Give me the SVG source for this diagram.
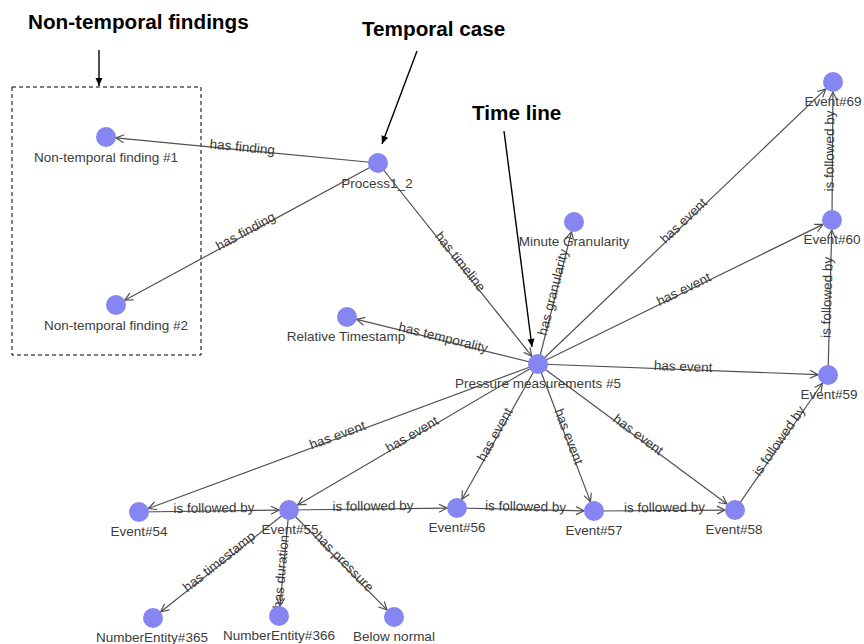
<svg xmlns="http://www.w3.org/2000/svg" width="864" height="644" viewBox="0 0 864 644">
  <style>
    .edge { stroke: #505050; stroke-width: 1.2; fill: none; marker-end: url(#open); }
    .note { stroke: #000; stroke-width: 1.4; fill: none; marker-end: url(#solid); }
    .node circle { fill: #8686f3; }
    .nlabel { font-family: "Liberation Sans", Arial, sans-serif; font-size: 13.5px; fill: #3c3c3c; text-anchor: middle; }
    .elabel { font-family: "Liberation Sans", Arial, sans-serif; font-size: 13.5px; fill: #3a3a3a; text-anchor: middle; }
    .title { font-family: "Liberation Sans", Arial, sans-serif; font-size: 20.7px; font-weight: bold; fill: #000; }
  </style>
  <defs>
    <marker id="open" markerUnits="userSpaceOnUse" orient="auto" overflow="visible" markerWidth="10" markerHeight="10">
      <path d="M-8,-4 L0,0 L-8,4" fill="none" stroke="#505050" stroke-width="1.2"/>
    </marker>
    <marker id="solid" markerUnits="userSpaceOnUse" orient="auto" overflow="visible" markerWidth="10" markerHeight="10">
      <path d="M-8,-3.5 L0,0 L-8,3.5 Z" fill="#000"/>
    </marker>
  </defs>
  <rect width="864" height="644" fill="#fff"/>

  <!-- callouts -->
  <g id="callouts">
    <text class="title" x="28" y="29">Non-temporal findings</text>
    <text class="title" x="362" y="36">Temporal case</text>
    <text class="title" x="472" y="120">Time line</text>
    <line class="note" x1="99" y1="50" x2="99" y2="86"/>
    <line class="note" x1="417" y1="51" x2="382" y2="144"/>
    <line class="note" x1="504" y1="131" x2="532" y2="347"/>
    <rect x="12" y="87" width="189" height="268" fill="none" stroke="#000" stroke-width="1" stroke-dasharray="4,3"/>
  </g>

  <!-- connectors -->
  <g id="connectors">
    <line class="edge" x1="378" y1="163" x2="115.96" y2="137.95"/>
    <line class="edge" x1="378" y1="163" x2="124.79" y2="300.23"/>
    <line class="edge" x1="378" y1="163" x2="531.77" y2="356.18"/>
    <line class="edge" x1="538" y1="364" x2="356.71" y2="319.39"/>
    <line class="edge" x1="538" y1="364" x2="571.54" y2="231.69"/>
    <line class="edge" x1="538" y1="364" x2="825.77" y2="88.91"/>
    <line class="edge" x1="538" y1="364" x2="823.02" y2="224.40"/>
    <line class="edge" x1="538" y1="364" x2="818.01" y2="374.62"/>
    <line class="edge" x1="538" y1="364" x2="726.97" y2="504.05"/>
    <line class="edge" x1="538" y1="364" x2="590.44" y2="501.65"/>
    <line class="edge" x1="538" y1="364" x2="461.90" y2="499.28"/>
    <line class="edge" x1="538" y1="364" x2="297.63" y2="504.94"/>
    <line class="edge" x1="538" y1="364" x2="148.38" y2="508.52"/>
    <line class="edge" x1="139" y1="512" x2="279" y2="510.13"/>
    <line class="edge" x1="289" y1="510" x2="447" y2="508.12"/>
    <line class="edge" x1="457" y1="508" x2="584" y2="510.78"/>
    <line class="edge" x1="594" y1="511" x2="725" y2="510.07"/>
    <line class="edge" x1="735" y1="510" x2="822.33" y2="383.24"/>
    <line class="edge" x1="828" y1="375" x2="831.74" y2="230"/>
    <line class="edge" x1="832" y1="220" x2="832.93" y2="92"/>
    <line class="edge" x1="289" y1="510" x2="160.83" y2="611.78"/>
    <line class="edge" x1="289" y1="510" x2="279.94" y2="606.05"/>
    <line class="edge" x1="289" y1="510" x2="387.0" y2="609.86"/>

    <!-- connector labels, rotated along their lines -->
    <text class="elabel" transform="translate(242,150) rotate(5.46)" y="1.5">has finding</text>
    <text class="elabel" transform="translate(247,234) rotate(-28.46)" y="1.5">has finding</text>
    <text class="elabel" transform="translate(458,263.5) rotate(51.48)" y="1.5">has timeline</text>
    <text class="elabel" transform="translate(442.5,340.5) rotate(13.82)" y="1.5">has temporality</text>
    <text class="elabel" transform="translate(556,293) rotate(-75.77)" y="1.5">has granularity</text>
    <text class="elabel" transform="translate(685.5,223) rotate(-43.71)" y="1.5">has event</text>
    <text class="elabel" transform="translate(685,292) rotate(-26.09)" y="1.5">has event</text>
    <text class="elabel" transform="translate(683,369.5) rotate(2.17)" y="1.5">has event</text>
    <text class="elabel" transform="translate(636.5,437) rotate(36.54)" y="1.5">has event</text>
    <text class="elabel" transform="translate(566,437.5) rotate(69.15)" y="1.5">has event</text>
    <text class="elabel" transform="translate(497.5,436) rotate(-60.64)" y="1.5">has event</text>
    <text class="elabel" transform="translate(413.5,437) rotate(-30.38)" y="1.5">has event</text>
    <text class="elabel" transform="translate(338.5,438) rotate(-20.35)" y="1.5">has event</text>
    <text class="elabel" transform="translate(214,511) rotate(-0.76)" y="1.5">is followed by</text>
    <text class="elabel" transform="translate(373,509) rotate(-0.68)" y="1.5">is followed by</text>
    <text class="elabel" transform="translate(525.5,509.5) rotate(1.25)" y="1.5">is followed by</text>
    <text class="elabel" transform="translate(664.5,510.5) rotate(-0.41)" y="1.5">is followed by</text>
    <text class="elabel" transform="translate(781.5,442.5) rotate(-55.44)" y="1.5">is followed by</text>
    <text class="elabel" transform="translate(830,297.5) rotate(-88.52)" y="1.5">is followed by</text>
    <text class="elabel" transform="translate(832.5,151) rotate(-89.58)" y="1.5">is followed by</text>
    <text class="elabel" transform="translate(221,564) rotate(-38.45)" y="1.5">has timestamp</text>
    <text class="elabel" transform="translate(284,572) rotate(-84.61)" y="1.5">has duration</text>
    <text class="elabel" transform="translate(342,564) rotate(45.54)" y="1.5">has pressure</text>
  </g>

  <!-- nodes -->
  <g id="ntf1" class="node"><circle cx="106" cy="137" r="10"/><text class="nlabel" x="106" y="162">Non-temporal finding #1</text></g>
  <g id="ntf2" class="node"><circle cx="116" cy="305" r="10"/><text class="nlabel" x="116" y="330">Non-temporal finding #2</text></g>
  <g id="process1_2" class="node"><circle cx="378" cy="163" r="10"/><text class="nlabel" x="377" y="188">Process1_2</text></g>
  <g id="minute-granularity" class="node"><circle cx="574" cy="222" r="10"/><text class="nlabel" x="574" y="246">Minute Granularity</text></g>
  <g id="relative-timestamp" class="node"><circle cx="347" cy="317" r="10"/><text class="nlabel" x="346" y="341">Relative Timestamp</text></g>
  <g id="pressure-measurements-5" class="node"><circle cx="538" cy="364" r="10"/><text class="nlabel" x="538" y="388">Pressure measurements #5</text></g>
  <g id="event69" class="node"><circle cx="833" cy="82" r="10"/><text class="nlabel" x="833" y="106">Event#69</text></g>
  <g id="event60" class="node"><circle cx="832" cy="220" r="10"/><text class="nlabel" x="832" y="244">Event#60</text></g>
  <g id="event59" class="node"><circle cx="828" cy="375" r="10"/><text class="nlabel" x="829" y="399">Event#59</text></g>
  <g id="event58" class="node"><circle cx="735" cy="510" r="10"/><text class="nlabel" x="734" y="534">Event#58</text></g>
  <g id="event57" class="node"><circle cx="594" cy="511" r="10"/><text class="nlabel" x="594" y="535">Event#57</text></g>
  <g id="event56" class="node"><circle cx="457" cy="508" r="10"/><text class="nlabel" x="457" y="532">Event#56</text></g>
  <g id="event55" class="node"><circle cx="289" cy="510" r="10"/><text class="nlabel" x="290" y="534">Event#55</text></g>
  <g id="event54" class="node"><circle cx="139" cy="512" r="10"/><text class="nlabel" x="139" y="536">Event#54</text></g>
  <g id="numberentity365" class="node"><circle cx="153" cy="618" r="10"/><text class="nlabel" x="152" y="642">NumberEntity#365</text></g>
  <g id="numberentity366" class="node"><circle cx="279" cy="616" r="10"/><text class="nlabel" x="279" y="640">NumberEntity#366</text></g>
  <g id="below-normal" class="node"><circle cx="394" cy="617" r="10"/><text class="nlabel" x="394" y="641">Below normal</text></g>
</svg>
